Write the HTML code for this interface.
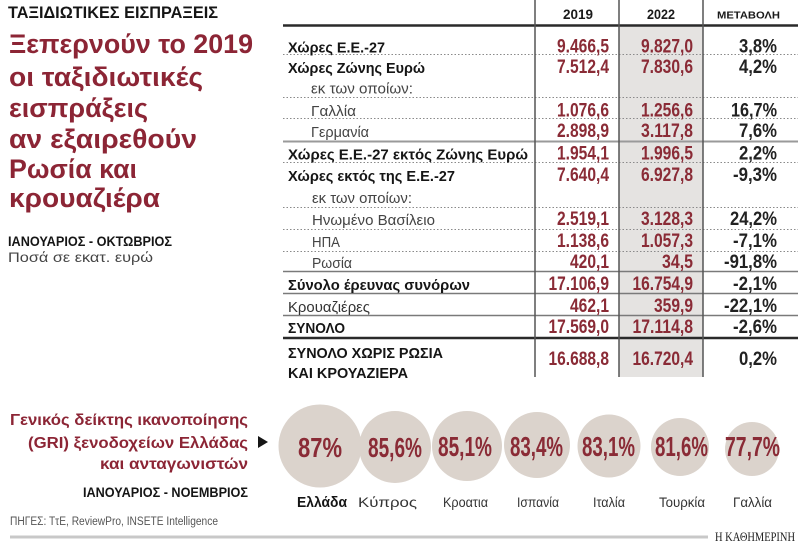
<!DOCTYPE html>
<html>
<head>
<meta charset="utf-8">
<style>
html,body{margin:0;padding:0;background:#fff;}
svg{display:block;}
text{font-family:"Liberation Sans","DejaVu Sans",sans-serif;}
.b{font-weight:bold;}
.val{font-weight:bold;font-size:19px;fill:#8a2b36;}
.pct{font-weight:bold;font-size:19px;fill:#222;}
.lb{font-weight:bold;font-size:15px;fill:#151515;}
.lr{font-size:14.5px;fill:#444;}
.ttl{font-weight:bold;font-size:27px;fill:#8c2535;}
.cp{font-weight:bold;font-size:28px;fill:#8a2b36;}
.cl{font-size:14px;fill:#333;}
</style>
</head>
<body>
<svg width="800" height="546" viewBox="0 0 800 546" xmlns="http://www.w3.org/2000/svg">
<rect width="800" height="546" fill="#fff"/>

<!-- Left title block -->
<text class="b" x="8" y="18" font-size="17" fill="#151515" textLength="210" lengthAdjust="spacingAndGlyphs">ΤΑΞΙΔΙΩΤΙΚΕΣ ΕΙΣΠΡΑΞΕΙΣ</text>
<text class="ttl" x="9" y="53" textLength="244" lengthAdjust="spacingAndGlyphs">Ξεπερνούν το 2019</text>
<text class="ttl" x="9" y="86" textLength="194" lengthAdjust="spacingAndGlyphs">οι ταξιδιωτικές</text>
<text class="ttl" x="9" y="117" textLength="139" lengthAdjust="spacingAndGlyphs">εισπράξεις</text>
<text class="ttl" x="9" y="148" textLength="188" lengthAdjust="spacingAndGlyphs">αν εξαιρεθούν</text>
<text class="ttl" x="9" y="178" textLength="128" lengthAdjust="spacingAndGlyphs">Ρωσία και</text>
<text class="ttl" x="9" y="207" textLength="151" lengthAdjust="spacingAndGlyphs">κρουαζιέρα</text>
<text class="b" x="8" y="246" font-size="13.5" fill="#151515" textLength="164" lengthAdjust="spacingAndGlyphs">ΙΑΝΟΥΑΡΙΟΣ - ΟΚΤΩΒΡΙΟΣ</text>
<text x="8" y="262" font-size="13.5" fill="#444" textLength="145" lengthAdjust="spacingAndGlyphs">Ποσά σε εκατ. ευρώ</text>

<!-- Table background column -->
<rect x="619.5" y="26.5" width="83.5" height="350.5" fill="#e5e3e1"/>

<!-- Header -->
<text class="b" x="563" y="19" font-size="14" fill="#1a1a1a" textLength="30" lengthAdjust="spacingAndGlyphs">2019</text>
<text class="b" x="647" y="19" font-size="14" fill="#1a1a1a" textLength="28" lengthAdjust="spacingAndGlyphs">2022</text>
<text class="b" x="717" y="18.5" font-size="10.5" fill="#1a1a1a" textLength="63" lengthAdjust="spacingAndGlyphs">ΜΕΤΑΒΟΛΗ</text>

<!-- Horizontal lines -->
<line x1="283" y1="25.5" x2="798" y2="25.5" stroke="#2a2a2a" stroke-width="2.5"/>
<g stroke="#8a8a8a" stroke-width="1" stroke-dasharray="1.5 2">
<line x1="283" y1="54.5" x2="798" y2="54.5"/>
<line x1="283" y1="97.5" x2="798" y2="97.5"/>
<line x1="283" y1="118.5" x2="798" y2="118.5"/>
<line x1="283" y1="162.5" x2="798" y2="162.5"/>
<line x1="283" y1="207.5" x2="798" y2="207.5"/>
<line x1="283" y1="229.5" x2="798" y2="229.5"/>
<line x1="283" y1="251.5" x2="798" y2="251.5"/>
</g>
<line x1="283" y1="141.5" x2="798" y2="141.5" stroke="#9a9a9a" stroke-width="2"/>
<line x1="283" y1="271.5" x2="798" y2="271.5" stroke="#7a7a7a" stroke-width="1.5"/>
<line x1="283" y1="293.5" x2="798" y2="293.5" stroke="#7a7a7a" stroke-width="1.5"/>
<line x1="283" y1="315.5" x2="798" y2="315.5" stroke="#7a7a7a" stroke-width="1.5"/>
<line x1="283" y1="338" x2="798" y2="338" stroke="#2a2a2a" stroke-width="2.5"/>

<!-- Vertical lines -->
<g stroke="#555" stroke-width="1.5">
<line x1="535" y1="0" x2="535" y2="377"/>
<line x1="619" y1="0" x2="619" y2="377"/>
<line x1="703" y1="0" x2="703" y2="377"/>
</g>

<!-- Row labels -->
<text class="lb" x="288" y="52.5" textLength="97" lengthAdjust="spacingAndGlyphs">Χώρες Ε.Ε.-27</text>
<text class="lb" x="288" y="73" textLength="137" lengthAdjust="spacingAndGlyphs">Χώρες Ζώνης Ευρώ</text>
<text class="lr" x="311" y="93.5" textLength="102" lengthAdjust="spacingAndGlyphs">εκ των οποίων:</text>
<text class="lr" x="311" y="116" textLength="45" lengthAdjust="spacingAndGlyphs">Γαλλία</text>
<text class="lr" x="311" y="137" textLength="58" lengthAdjust="spacingAndGlyphs">Γερμανία</text>
<text class="lb" x="288" y="159.5" textLength="240" lengthAdjust="spacingAndGlyphs">Χώρες Ε.Ε.-27 εκτός Ζώνης Ευρώ</text>
<text class="lb" x="288" y="181" textLength="167" lengthAdjust="spacingAndGlyphs">Χώρες εκτός της Ε.Ε.-27</text>
<text class="lr" x="312" y="203" textLength="100" lengthAdjust="spacingAndGlyphs">εκ των οποίων:</text>
<text class="lr" x="312" y="225" textLength="123" lengthAdjust="spacingAndGlyphs">Ηνωμένο Βασίλειο</text>
<text class="lr" x="312" y="247" textLength="28" lengthAdjust="spacingAndGlyphs">ΗΠΑ</text>
<text class="lr" x="312" y="268" textLength="40" lengthAdjust="spacingAndGlyphs">Ρωσία</text>
<text class="lb" x="288" y="290" textLength="182" lengthAdjust="spacingAndGlyphs">Σύνολο έρευνας συνόρων</text>
<text class="lr" x="288" y="312" fill="#333" style="fill:#333" textLength="82" lengthAdjust="spacingAndGlyphs">Κρουαζιέρες</text>
<text class="lb" x="288" y="333" textLength="57" lengthAdjust="spacingAndGlyphs">ΣΥΝΟΛΟ</text>
<text class="lb" x="288" y="358" textLength="155" lengthAdjust="spacingAndGlyphs">ΣΥΝΟΛΟ ΧΩΡΙΣ ΡΩΣΙΑ</text>
<text class="lb" x="288" y="378" textLength="120" lengthAdjust="spacingAndGlyphs">ΚΑΙ ΚΡΟΥΑΖΙΕΡΑ</text>

<!-- 2019 values (right edge 609) -->
<text class="val" x="557" y="52.5" textLength="52" lengthAdjust="spacingAndGlyphs">9.466,5</text>
<text class="val" x="557" y="73" textLength="52" lengthAdjust="spacingAndGlyphs">7.512,4</text>
<text class="val" x="557" y="116.5" textLength="52" lengthAdjust="spacingAndGlyphs">1.076,6</text>
<text class="val" x="557" y="137" textLength="52" lengthAdjust="spacingAndGlyphs">2.898,9</text>
<text class="val" x="557" y="159.5" textLength="52" lengthAdjust="spacingAndGlyphs">1.954,1</text>
<text class="val" x="557" y="181" textLength="52" lengthAdjust="spacingAndGlyphs">7.640,4</text>
<text class="val" x="557" y="225" textLength="52" lengthAdjust="spacingAndGlyphs">2.519,1</text>
<text class="val" x="557" y="247" textLength="52" lengthAdjust="spacingAndGlyphs">1.138,6</text>
<text class="val" x="570" y="268" textLength="39" lengthAdjust="spacingAndGlyphs">420,1</text>
<text class="val" x="548.5" y="290" textLength="60.5" lengthAdjust="spacingAndGlyphs">17.106,9</text>
<text class="val" x="570" y="312" textLength="39" lengthAdjust="spacingAndGlyphs">462,1</text>
<text class="val" x="548.5" y="333" textLength="60.5" lengthAdjust="spacingAndGlyphs">17.569,0</text>
<text class="val" x="548.5" y="365" textLength="60.5" lengthAdjust="spacingAndGlyphs">16.688,8</text>

<!-- 2022 values (right edge 693) -->
<text class="val" x="641" y="52.5" textLength="52" lengthAdjust="spacingAndGlyphs">9.827,0</text>
<text class="val" x="641" y="73" textLength="52" lengthAdjust="spacingAndGlyphs">7.830,6</text>
<text class="val" x="641" y="116.5" textLength="52" lengthAdjust="spacingAndGlyphs">1.256,6</text>
<text class="val" x="641" y="137" textLength="52" lengthAdjust="spacingAndGlyphs">3.117,8</text>
<text class="val" x="641" y="159.5" textLength="52" lengthAdjust="spacingAndGlyphs">1.996,5</text>
<text class="val" x="641" y="181" textLength="52" lengthAdjust="spacingAndGlyphs">6.927,8</text>
<text class="val" x="641" y="225" textLength="52" lengthAdjust="spacingAndGlyphs">3.128,3</text>
<text class="val" x="641" y="247" textLength="52" lengthAdjust="spacingAndGlyphs">1.057,3</text>
<text class="val" x="662" y="268" textLength="31" lengthAdjust="spacingAndGlyphs">34,5</text>
<text class="val" x="632.5" y="290" textLength="60.5" lengthAdjust="spacingAndGlyphs">16.754,9</text>
<text class="val" x="654" y="312" textLength="39" lengthAdjust="spacingAndGlyphs">359,9</text>
<text class="val" x="632.5" y="333" textLength="60.5" lengthAdjust="spacingAndGlyphs">17.114,8</text>
<text class="val" x="632.5" y="365" textLength="60.5" lengthAdjust="spacingAndGlyphs">16.720,4</text>

<!-- Change column (right edge 777) -->
<text class="pct" x="739" y="52.5" textLength="38" lengthAdjust="spacingAndGlyphs">3,8%</text>
<text class="pct" x="739" y="73" textLength="38" lengthAdjust="spacingAndGlyphs">4,2%</text>
<text class="pct" x="731" y="116.5" textLength="46" lengthAdjust="spacingAndGlyphs">16,7%</text>
<text class="pct" x="739" y="137" textLength="38" lengthAdjust="spacingAndGlyphs">7,6%</text>
<text class="pct" x="739" y="159.5" textLength="38" lengthAdjust="spacingAndGlyphs">2,2%</text>
<text class="pct" x="733" y="181" textLength="44" lengthAdjust="spacingAndGlyphs">-9,3%</text>
<text class="pct" x="730" y="225" textLength="47" lengthAdjust="spacingAndGlyphs">24,2%</text>
<text class="pct" x="733" y="247" textLength="44" lengthAdjust="spacingAndGlyphs">-7,1%</text>
<text class="pct" x="724" y="268" textLength="53" lengthAdjust="spacingAndGlyphs">-91,8%</text>
<text class="pct" x="733" y="290" textLength="44" lengthAdjust="spacingAndGlyphs">-2,1%</text>
<text class="pct" x="724" y="312" textLength="53" lengthAdjust="spacingAndGlyphs">-22,1%</text>
<text class="pct" x="733" y="333" textLength="44" lengthAdjust="spacingAndGlyphs">-2,6%</text>
<text class="pct" x="739" y="365" textLength="38" lengthAdjust="spacingAndGlyphs">0,2%</text>

<!-- Bottom left text -->
<text class="b" x="10" y="425" font-size="16" fill="#8c2535" textLength="238" lengthAdjust="spacingAndGlyphs">Γενικός δείκτης ικανοποίησης</text>
<text class="b" x="28" y="448" font-size="16" fill="#8c2535" textLength="220" lengthAdjust="spacingAndGlyphs">(GRI) ξενοδοχείων Ελλάδας</text>
<text class="b" x="100" y="469" font-size="16" fill="#8c2535" textLength="148" lengthAdjust="spacingAndGlyphs">και ανταγωνιστών</text>
<polygon points="258,436 268,442 258,448" fill="#151515"/>
<text class="b" x="83" y="497" font-size="13.5" fill="#151515" textLength="165" lengthAdjust="spacingAndGlyphs">ΙΑΝΟΥΑΡΙΟΣ - ΝΟΕΜΒΡΙΟΣ</text>
<text x="10" y="525" font-size="11.5" fill="#555" textLength="208" lengthAdjust="spacingAndGlyphs">ΠΗΓΕΣ: ΤτΕ, ReviewPro, INSETE Intelligence</text>

<!-- Circles -->
<g fill="#dbd3cc">
<circle cx="320" cy="446" r="41.5"/>
<circle cx="395" cy="447" r="36"/>
<circle cx="467" cy="446" r="35"/>
<circle cx="537" cy="445" r="33"/>
<circle cx="609" cy="446" r="31.5"/>
<circle cx="680" cy="447" r="29"/>
<circle cx="752" cy="449" r="27"/>
</g>
<text class="cp" x="298" y="457" textLength="44" lengthAdjust="spacingAndGlyphs">87%</text>
<text class="cp" x="368" y="457" textLength="54" lengthAdjust="spacingAndGlyphs">85,6%</text>
<text class="cp" x="438" y="456" textLength="54" lengthAdjust="spacingAndGlyphs">85,1%</text>
<text class="cp" x="510" y="456" textLength="53" lengthAdjust="spacingAndGlyphs">83,4%</text>
<text class="cp" x="582" y="456" textLength="53" lengthAdjust="spacingAndGlyphs">83,1%</text>
<text class="cp" x="655" y="456" textLength="53" lengthAdjust="spacingAndGlyphs">81,6%</text>
<text class="cp" x="725" y="456" textLength="55" lengthAdjust="spacingAndGlyphs">77,7%</text>

<!-- Country labels -->
<text class="b" x="297" y="507" font-size="15" fill="#151515" textLength="50" lengthAdjust="spacingAndGlyphs">Ελλάδα</text>
<text class="cl" x="358" y="507" textLength="59" lengthAdjust="spacingAndGlyphs">Κύπρος</text>
<text class="cl" x="443" y="507" textLength="45" lengthAdjust="spacingAndGlyphs">Κροατια</text>
<text class="cl" x="517" y="507" textLength="42" lengthAdjust="spacingAndGlyphs">Ισπανία</text>
<text class="cl" x="593" y="507" textLength="32" lengthAdjust="spacingAndGlyphs">Ιταλία</text>
<text class="cl" x="659" y="507" textLength="46" lengthAdjust="spacingAndGlyphs">Τουρκία</text>
<text class="cl" x="733" y="507" textLength="39" lengthAdjust="spacingAndGlyphs">Γαλλία</text>

<!-- Footer -->
<line x1="10" y1="537" x2="708" y2="537" stroke="#c8c8c8" stroke-width="3"/>
<text x="715" y="541" font-family="'Liberation Serif',serif" font-size="12.5" fill="#222" textLength="80" lengthAdjust="spacingAndGlyphs" style="font-family:'Liberation Serif','DejaVu Serif',serif">Η ΚΑΘΗΜΕΡΙΝΗ</text>
</svg>
</body>
</html>
